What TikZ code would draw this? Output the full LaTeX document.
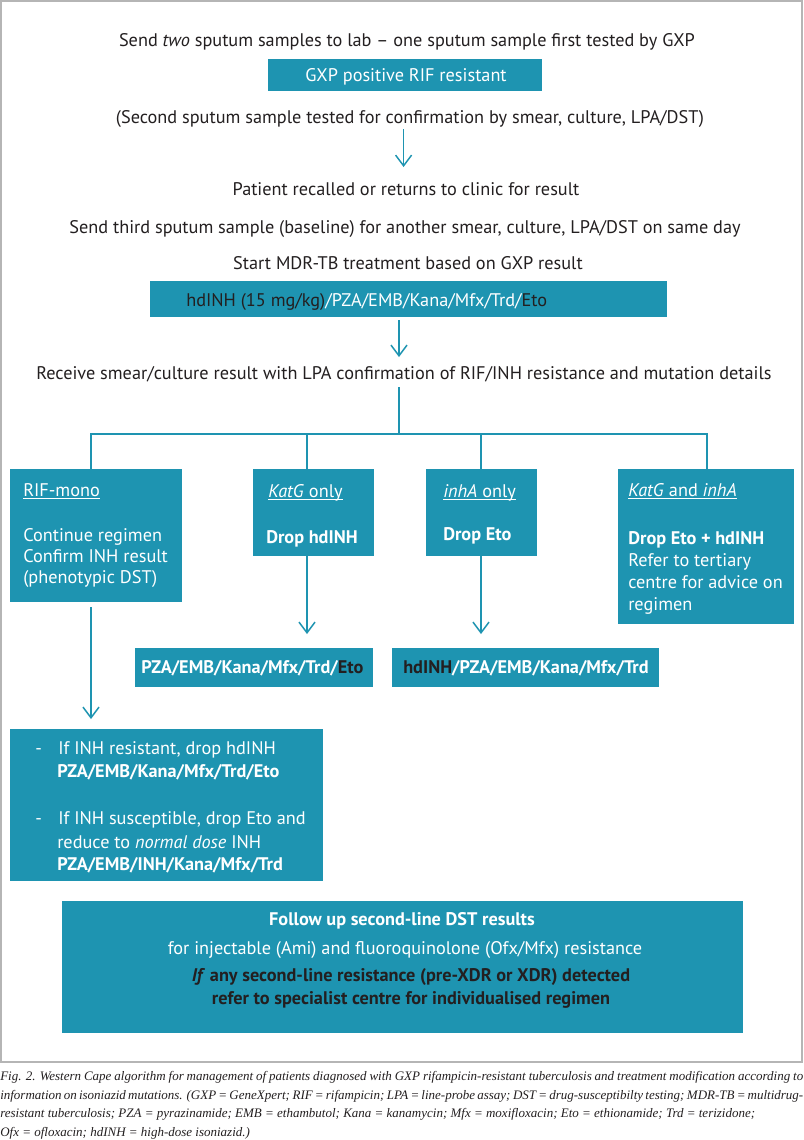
\documentclass[tikz,border=0pt]{standalone}
\usepackage{fontspec}
\setmainfont{PT Sans}
\newfontfamily\capfont{Liberation Serif}
\usetikzlibrary{arrows.meta,calc}
\definecolor{teal1}{HTML}{1E94B1}
\definecolor{dark1}{HTML}{231F20}
\definecolor{frame1}{HTML}{B5B5B5}
\newsavebox\ulbox
\newcommand\myul[1]{\sbox\ulbox{#1}\rlap{\rule[-2.2pt]{\wd\ulbox}{0.65pt}}\usebox\ulbox}
\newcommand\mysz{\fontsize{13.7pt}{16pt}\selectfont}
\newcommand\capsz{\capfont\itshape\fontsize{9.75pt}{11pt}\selectfont}
\begin{document}
\begin{tikzpicture}[x=0.75pt,y=-0.75pt,
  txt/.style={inner sep=0pt,anchor=base,font=\mysz,text=dark1},
  ltxt/.style={inner sep=0pt,anchor=base west,font=\mysz,text=white},
  ctxt/.style={inner sep=0pt,anchor=base west,font=\capsz,text=dark1},
  box/.style={fill=teal1,draw=none,inner sep=0pt,anchor=north west,outer sep=0pt},
  line/.style={draw=teal1,line width=1.1pt},
  arr/.style={line,-{Straight Barb[length=8pt,width=12pt,line width=1.1pt]}},
]
\useasboundingbox (0,0) rectangle (804,1140);
\fill[white] (0,0) rectangle (804,1140);
\draw[frame1,line width=1.2pt] (1,1) rectangle (802,1062);

% boxes
\node[box,minimum width=274*0.75pt,minimum height=32*0.75pt] (gxp) at (268,59) {};
\node[box,minimum width=517*0.75pt,minimum height=36*0.75pt] (reg) at (150,281) {};
\node[box,minimum width=172*0.75pt,minimum height=133*0.75pt] (rif) at (10,469) {};
\node[box,minimum width=121*0.75pt,minimum height=87*0.75pt] (katg) at (253,469) {};
\node[box,minimum width=111*0.75pt,minimum height=87*0.75pt] (inha) at (426,469) {};
\node[box,minimum width=176*0.75pt,minimum height=155*0.75pt] (both) at (618,469) {};
\node[box,minimum width=238*0.75pt,minimum height=39*0.75pt] (katgres) at (135,648) {};
\node[box,minimum width=267*0.75pt,minimum height=39*0.75pt] (inhares) at (392,648) {};
\node[box,minimum width=313*0.75pt,minimum height=152*0.75pt] (risk) at (10,729) {};
\node[box,minimum width=681*0.75pt,minimum height=132*0.75pt] (final) at (62,901) {};

% top texts
\node[txt] (t1) at (407,46) {Send \textit{two} sputum samples to lab – one sputum sample first tested by GXP};
\node[txt,text=white] (gxpt) at (406,81) {GXP positive RIF resistant};
\node[txt] (t2) at (410,123) {(Second sputum sample tested for confirmation by smear, culture, LPA/DST)};
\node[txt] (t3) at (406,195) {Patient recalled or returns to clinic for result};
\node[txt] (t4) at (405,233) {Send third sputum sample (baseline) for another smear, culture, LPA/DST on same day};
\node[txt] (t5) at (408,269) {Start MDR-TB treatment based on GXP result};
\node[ltxt] (regt) at (186,306) {{\color{dark1}hdINH (15 mg/kg)}/PZA/EMB/Kana/Mfx/Trd/{\color{dark1}Eto}};
\node[txt] (t6) at (404,379) {Receive smear/culture result with LPA confirmation of RIF/INH resistance and mutation details};

% branch boxes text
\node[ltxt] (rif1) at (23,496) {\myul{RIF-mono}};
\node[ltxt] (rif2) at (23,541) {Continue regimen};
\node[ltxt] (rif3) at (23,562) {Confirm INH result};
\node[ltxt] (rif4) at (23,583) {(phenotypic DST)};
\node[ltxt] (katg1) at (268,497) {\myul{\textit{KatG} only}};
\node[ltxt] (katg2) at (266,543) {\textbf{Drop hdINH}};
\node[ltxt] (inha1) at (443,497) {\myul{\textit{inhA} only}};
\node[ltxt] (inha2) at (443,540) {\textbf{Drop Eto}};
\node[ltxt] (both1) at (628,496) {\myul{\textit{KatG} and \textit{inhA}}};
\node[ltxt] (both2) at (628,544) {\textbf{Drop Eto + hdINH}};
\node[ltxt] (both3) at (628,566) {Refer to tertiary};
\node[ltxt] (both4) at (628,588) {centre for advice on};
\node[ltxt] (both5) at (628,610) {regimen};
\node[ltxt] (katgrest) at (141,673) {\textbf{PZA/EMB/Kana/Mfx/Trd/{\color{dark1}Eto}}};
\node[ltxt] (inharest) at (403,673) {\textbf{{\color{dark1}hdINH}/PZA/EMB/Kana/Mfx/Trd}};

% risk box text
\node[ltxt] (rd1) at (35,754) {-};
\node[ltxt] (r1) at (58,754) {If INH resistant, drop hdINH};
\node[ltxt] (r2) at (57,777) {\textbf{PZA/EMB/Kana/Mfx/Trd/Eto}};
\node[ltxt] (rd2) at (35,824) {-};
\node[ltxt] (r3) at (58,824) {If INH susceptible, drop Eto and};
\node[ltxt] (r4) at (57,848) {reduce to \textit{normal dose} INH};
\node[ltxt] (r5) at (57,870) {\textbf{PZA/EMB/INH/Kana/Mfx/Trd}};

% final box text
\node[txt,text=white] (f1) at (402,925) {\textbf{Follow up second-line DST results}};
\node[txt,text=white] (f2) at (405,954) {for injectable (Ami) and fluoroquinolone (Ofx/Mfx) resistance};
\node[txt] (f3) at (411,981) {\textbf{\textit{If} any second-line resistance (pre-XDR or XDR) detected}};
\node[txt] (f4) at (411,1004) {\textbf{refer to specialist centre for individualised regimen}};

% caption
\node[ctxt] (c1) at (0,1080.5) {\makebox[602.25pt][s]{Fig. 2. Western Cape algorithm for management of patients diagnosed with GXP rifampicin-resistant tuberculosis and treatment modification according to}};
\node[ctxt] (c2) at (0,1099) {\makebox[602.25pt][s]{information on isoniazid mutations. (GXP = GeneXpert; RIF = rifampicin; LPA = line-probe assay; DST = drug-susceptibilty testing; MDR-TB = multidrug-}};
\node[ctxt] (c3) at (0,1117.5) {resistant tuberculosis; PZA = pyrazinamide; EMB = ethambutol; Kana = kanamycin; Mfx = moxifloxacin; Eto = ethionamide; Trd = terizidone;};
\node[ctxt] (c4) at (0,1136) {Ofx = ofloxacin; hdINH = high-dose isoniazid.)};

% connectors
\coordinate (a1s) at (403.6,129);
\coordinate (a1e) at (403.6,167);
\draw[arr] (a1s) -- (a1e);
\coordinate (a2s) at (399,320);
\coordinate (a2e) at (399,357);
\draw[arr] (a2s) -- (a2e);
\coordinate (s6) at (399,387);
\coordinate (j) at (399,434);
\coordinate (d1) at (91,469);
\coordinate (d2) at (307,469);
\coordinate (d3) at (481,469);
\coordinate (d4) at (707,469);
\draw[line] (s6) -- (j);
\draw[line] (d1) |- (j) -| (d4);
\draw[line] (d2) -- (d2 |- j);
\draw[line] (d3) -- (d3 |- j);
\draw[arr,shorten >=14*0.75pt] (katg.south -| d2) -- (katgres.north -| d2);
\draw[arr,shorten >=14*0.75pt] (inha.south -| d3) -- (inhares.north -| d3);
\draw[arr,shorten <=5*0.75pt,shorten >=10*0.75pt] (rif.south -| d1) -- (risk.north -| d1);
\end{tikzpicture}
\end{document}
